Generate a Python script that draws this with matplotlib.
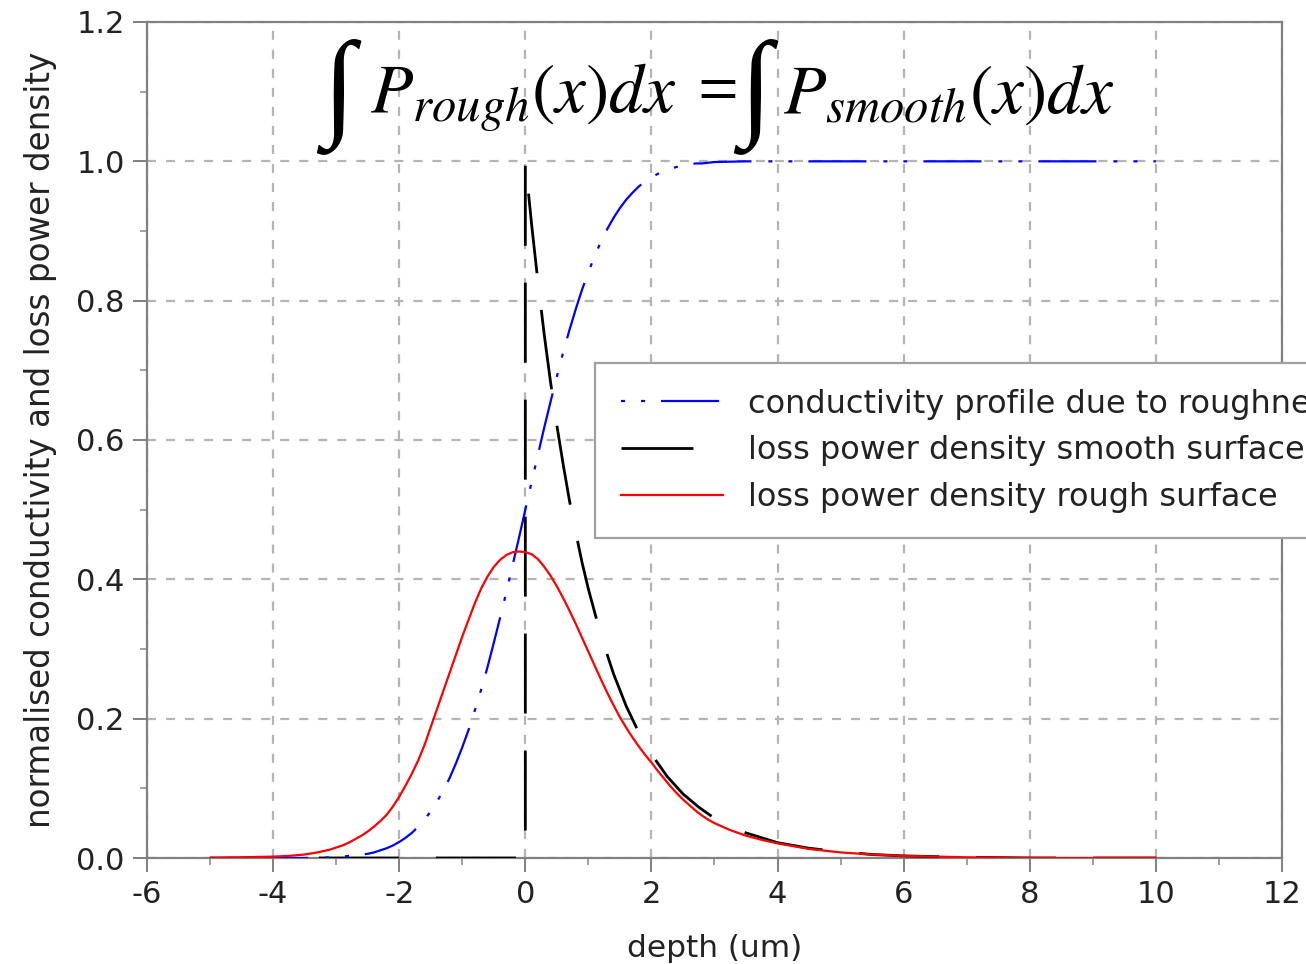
import numpy as np
import matplotlib
matplotlib.use("Agg")
import matplotlib.pyplot as plt
from matplotlib.ticker import MultipleLocator


# =========================================================
# データ
# =========================================================

# 導電率プロファイル（粗さによる）
x_sigma = [-5.0, -4.0, -3.5, -3.0, -2.9, -2.8, -2.7, -2.6, -2.5, -2.4, -2.3, -2.2,
           -2.1, -2.0, -1.9, -1.8, -1.7, -1.6, -1.5, -1.4, -1.3, -1.2, -1.1,
           -1.0, -0.9, -0.8, -0.7, -0.6, -0.5, -0.4, -0.3, -0.2, -0.1, 0.0,
           0.1, 0.2, 0.3, 0.4, 0.5, 0.6, 0.7, 0.8, 0.9, 1.0, 1.1, 1.2, 1.3,
           1.4, 1.5, 1.6, 1.7, 1.8, 1.9, 2.0, 2.1, 2.2, 2.3, 2.4, 2.5, 2.6,
           2.7, 2.8, 2.9, 3.0, 3.5, 4.0, 6.0, 8.0, 10.0]
sigma_rough = [0.000, 0.000, 0.000, 0.001, 0.002, 0.003, 0.003, 0.005, 0.006, 0.008,
               0.011, 0.014, 0.018, 0.023, 0.029, 0.036, 0.045, 0.055, 0.067, 0.081,
               0.097, 0.115, 0.136, 0.159, 0.184, 0.212, 0.242, 0.274, 0.309, 0.345,
               0.382, 0.421, 0.460, 0.500, 0.540, 0.579, 0.618, 0.655, 0.691, 0.726,
               0.758, 0.788, 0.816, 0.841, 0.864, 0.885, 0.903, 0.919, 0.933, 0.945,
               0.955, 0.964, 0.971, 0.977, 0.982, 0.986, 0.989, 0.992, 0.994, 0.995,
               0.997, 0.997, 0.998, 0.999, 1.000, 1.000, 1.000, 1.000, 1.000]

# 滑らかな表面の損失電力密度
x_smooth = [-5.0, 0.0, 0.0, 0.1, 0.2, 0.3, 0.4, 0.5, 0.6, 0.7, 0.8, 0.9, 1.0,
            1.2, 1.4, 1.6, 1.8, 2.0, 2.25, 2.5, 2.75, 3.0, 3.5, 4.0, 4.5, 5.0,
            5.5, 6.0, 7.0, 8.0, 10.0]
p_smooth = [0.000, 0.000, 1.000, 0.909, 0.827, 0.751, 0.683, 0.621, 0.565, 0.513,
            0.467, 0.424, 0.386, 0.319, 0.264, 0.218, 0.180, 0.149, 0.117, 0.092,
            0.073, 0.057, 0.036, 0.022, 0.014, 0.009, 0.005, 0.003, 0.001, 0.000,
            0.000]

# 粗い表面の損失電力密度
x_rough = [-5.0, -4.5, -4.0, -3.75, -3.5, -3.3, -3.1, -3.0, -2.9, -2.8, -2.7,
           -2.6, -2.5, -2.4, -2.3, -2.2, -2.1, -2.0, -1.9, -1.8, -1.7, -1.6,
           -1.5, -1.4, -1.3, -1.2, -1.1, -1.0, -0.9, -0.8, -0.7, -0.6, -0.5,
           -0.4, -0.3, -0.2, -0.1, 0.0, 0.1, 0.2, 0.3, 0.4, 0.5, 0.6, 0.7,
           0.8, 0.9, 1.0, 1.1, 1.2, 1.3, 1.4, 1.5, 1.6, 1.7, 1.8, 1.9, 2.0,
           2.1, 2.2, 2.3, 2.4, 2.5, 2.6, 2.7, 2.8, 2.9, 3.0, 3.25, 3.5, 3.75,
           4.0, 4.5, 5.0, 5.5, 6.0, 7.0, 8.0, 10.0]
p_rough = [0.000, 0.001, 0.002, 0.003, 0.005, 0.008, 0.012, 0.015, 0.018, 0.022,
           0.027, 0.032, 0.038, 0.045, 0.053, 0.062, 0.074, 0.088, 0.104, 0.121,
           0.140, 0.162, 0.188, 0.214, 0.240, 0.266, 0.292, 0.318, 0.342, 0.366,
           0.387, 0.404, 0.418, 0.428, 0.435, 0.439, 0.440, 0.439, 0.436, 0.429,
           0.418, 0.405, 0.390, 0.373, 0.355, 0.336, 0.316, 0.296, 0.276, 0.256,
           0.237, 0.219, 0.202, 0.187, 0.173, 0.160, 0.148, 0.137, 0.125, 0.114,
           0.103, 0.093, 0.084, 0.076, 0.068, 0.061, 0.055, 0.050, 0.040, 0.032,
           0.026, 0.021, 0.013, 0.008, 0.005, 0.003, 0.001, 0.000, 0.000]

labels = [
    "conductivity profile due to roughness",
    "loss power density smooth surface",
    "loss power density rough surface",
]


# =========================================================
# 描画設定
# =========================================================

plt.rcParams["font.family"] = ["DejaVu Sans"]
plt.rcParams["mathtext.fontset"] = "stix"
plt.rcParams["axes.unicode_minus"] = False
plt.rcParams["lines.scale_dashes"] = False

W, H = 1306, 964
fig = plt.figure(figsize=(W / 100, H / 100), dpi=100)
ax = fig.add_axes([147 / W, 1 - 858 / H, 1135 / W, 836 / H])

line_black, = ax.plot(
    x_smooth, p_smooth,
    color="black", linewidth=2.0,
    linestyle=(5.8, (57.6, 26.6)),
    zorder=3
)

line_blue, = ax.plot(
    x_sigma, sigma_rough,
    color="#0000ff", linewidth=1.6,
    linestyle=(54.0, (41.8, 12.2, 2.9, 11.5, 2.9, 11.5)),
    zorder=4
)

line_red, = ax.plot(
    x_rough, p_rough,
    color="#ff0000", linewidth=1.6,
    zorder=5
)

ax.set_xlim(-6, 12)
ax.set_ylim(0, 1.2)

ax.xaxis.set_major_locator(MultipleLocator(2))
ax.xaxis.set_minor_locator(MultipleLocator(1))
ax.yaxis.set_major_locator(MultipleLocator(0.2))
ax.yaxis.set_minor_locator(MultipleLocator(0.1))
ax.yaxis.set_major_formatter(plt.FormatStrFormatter("%.1f"))

ax.grid(True, which="major", color="#b4b4b4",
        linewidth=1.6, linestyle=(0, (6.5, 7.2)))

for spine in ax.spines.values():
    spine.set_color("#808080")
    spine.set_linewidth(1.6)

ax.tick_params(which="major", direction="out", length=10,
               width=1.4, color="#808080", labelsize=22,
               labelcolor="#222222", pad=6)
ax.tick_params(which="minor", direction="out", length=5,
               width=1.4, color="#a0a0a0")

ax.set_xlabel("depth (um)", fontsize=22.5, color="#222222", labelpad=18)
ax.set_ylabel("normalised conductivity and loss power density",
              fontsize=23.5, color="#222222", labelpad=14)


# =========================================================
# 積分の式（部品ごとに配置、位置はピクセル）
# =========================================================

baseline = 1 - 113 / H
int_base = 1 - 122 / H

def put(px, text, size, **kw):
    fig.text(px / W, kw.pop("y", baseline), text, fontsize=size,
             ha="left", va="baseline", color="black", zorder=6, **kw)

put(322, "\u222b", 85, family="Liberation Serif", y=int_base)
put(370, r"$P_{rough}(x)dx$", 50)
put(697, "=", 52, family="Liberation Serif")
put(739, "\u222b", 85, family="Liberation Serif", y=int_base)
put(783, r"$P_{smooth}(x)dx$", 50)


# =========================================================
# 凡例
# =========================================================

leg = ax.legend(
    [line_blue, line_black, line_red],
    labels,
    loc="upper left",
    bbox_to_anchor=(595 / W, 1 - 363 / H),
    bbox_transform=fig.transFigure,
    borderaxespad=0,
    fontsize=23,
    handlelength=3.2,
    handletextpad=0.8,
    labelspacing=0.49,
    borderpad=0.8,
    fancybox=False,
    framealpha=1,
    edgecolor="#a0a0a0",
)
leg.get_frame().set_linewidth(1.6)
for text in leg.get_texts():
    text.set_color("#222222")

fig.savefig("out.png", dpi=100)
